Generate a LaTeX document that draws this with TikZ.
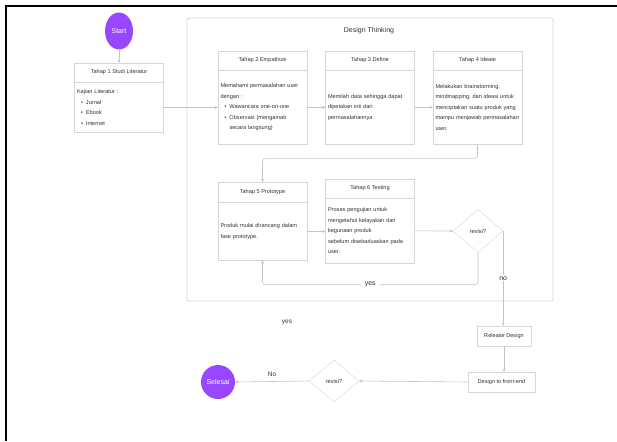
\documentclass[tikz,border=0pt]{standalone}
\usepackage{fontspec}
\setmainfont{Liberation Sans}
\usetikzlibrary{arrows.meta, positioning, shapes.geometric, calc}
\definecolor{flowpurple}{RGB}{151, 71, 255}
\definecolor{flowgray}{RGB}{214, 214, 214}
\definecolor{linegray}{RGB}{196, 196, 196}
\definecolor{textgray}{RGB}{51, 51, 51}
\hyphenpenalty=10000
\newcommand{\itm}[1]{\hspace*{4pt}\makebox[5pt][l]{\textbullet}#1}
\newcommand{\cont}[1]{\hspace*{9pt}#1}

\begin{document}
\begin{tikzpicture}[
  x=1pt, y=-1pt,
  >={Stealth[length=3pt, width=3pt]},
  stagetitle/.style={draw=flowgray, fill=white, text=textgray, minimum width=89pt, minimum height=19pt, inner sep=0pt, font=\fontsize{5.6}{7}\selectfont},
  stagebody/.style={draw=flowgray, fill=white, text=textgray, text width=84pt, inner xsep=2.5pt, inner ysep=0pt, align=left, font=\fontsize{5.6}{10.5}\selectfont},
  smallbox/.style={draw=flowgray, fill=white, text=textgray, minimum height=20pt, inner sep=0pt, font=\fontsize{5.6}{7}\selectfont},
  decision/.style={diamond, draw=flowgray, fill=white, text=textgray, minimum width=50pt, minimum height=43pt, inner sep=0pt, font=\fontsize{5.8}{7}\selectfont},
  terminal/.style={fill=flowpurple, text=white, inner sep=0pt, font=\fontsize{7}{8}\selectfont},
  frame/.style={draw=flowgray, line width=0.8pt, rounded corners=1.5pt},
  conn/.style={->, draw=linegray, line width=0.6pt},
  lbl/.style={text=textgray, font=\fontsize{7}{8}\selectfont}
]
  \useasboundingbox (0,0) rectangle (617,441);

  % Page edges
  \draw[line width=2pt] (5,6) -- (617,6);
  \draw[line width=2pt] (6,5) -- (6,441);

  % Design Thinking frame
  \node[frame, minimum width=366pt, minimum height=283pt] (dt) at (370,159.5) {};
  \node[text=textgray, font=\fontsize{7}{8}\selectfont] (dttitle) at (369,31) {Design Thinking};

  % Start and Tahap 1
  \node[terminal, ellipse, minimum width=28pt, minimum height=37pt] (start) at (119,31) {Start};
  \node[stagetitle] (t1) at (119,72.5) {Tahap 1 Studi Literatur};
  \node[stagebody, minimum height=50pt, below=0pt of t1] (b1) {Kajian Literatur :\\ \itm{Jurnal}\\ \itm{Ebook}\\ \itm{Internet}};

  % Tahap 2 - 4
  \node[stagetitle] (t2) at (262.5,60.5) {Tahap 2 Empathize};
  \node[stagebody, minimum height=74pt, below=0pt of t2] (b2) {Memahami permasalahan user\\ dengan :\\ \itm{Wawancara one-on-one}\\ \itm{Observasi (mengamati}\\ \cont{secara langsung)}};

  \node[stagetitle] (t3) at (370,60.5) {Tahap 3 Define};
  \node[stagebody, minimum height=74pt, below=0pt of t3] (b3) {Memilah data sehingga dapat\\ dipetakan inti dari\\ permasalahannya};

  \node[stagetitle] (t4) at (477.5,60.5) {Tahap 4 Ideate};
  \node[stagebody, minimum height=74pt, below=0pt of t4] (b4) {Melakukan brainstorming,\\ mindmapping, dan ideasi untuk\\ menciptakan suatu produk yang\\ mampu menjawab permasalahan\\ user.};

  % Tahap 5 - 6
  \node[stagetitle, minimum height=20pt] (t5) at (262.5,192) {Tahap 5 Prototype};
  \node[stagebody, minimum height=58pt, below=0pt of t5] (b5) {Produk mulai dirancang dalam\\ fase prototype.};

  \node[stagetitle] (t6) at (370,188.5) {Tahap 6 Testing};
  \node[stagebody, minimum height=65pt, below=0pt of t6] (b6) {Proses pengujian untuk\\ mengetahui kelayakan dan\\ kegunaan produk\\ sebelum disebarluaskan pada\\ user.};

  \node[decision] (rv1) at (478,231) {revisi?};

  % Release and end
  \node[smallbox, minimum width=54pt] (rel) at (504,336) {Release Design};
  \node[smallbox, minimum width=67pt] (dfe) at (501.5,382) {Design to front-end};
  \node[decision, minimum height=42pt] (rv2) at (334,381) {revisi?};
  \node[terminal, circle, minimum size=34pt] (end) at (218,382) {Selesai};
  \node[lbl, font=\fontsize{6.5}{8}\selectfont] (yesfree) at (287,322) {yes};

  % Connectors
  \draw[conn] (start) -- (t1);
  \draw[conn] (b1.east) -- (b2.west);
  \draw[conn] (b2.east) -- (b3.west);
  \draw[conn] (b3.east) -- (b4.west);
  \draw[conn, rounded corners=3pt] (b4.south) -- ++(0,14) -| (t5.north);
  \draw[conn] (b5.east) -- (b5.east -| b6.west);
  \draw[conn] (b6.east) -- (rv1.west);
  \draw[conn, rounded corners=3pt] (rv1.south) -- ++(0,32) -| node[lbl, pos=0.25, fill=white, inner xsep=4pt] {yes} (b5.south);
  \draw[conn] (rv1.east) -- node[lbl, fill=white, inner sep=1pt] {no} (rv1.east |- rel.north);
  \draw[conn] (rel.south) -- (rel.south |- dfe.north);
  \draw[conn] (dfe.west) -- (rv2.east);
  \draw[conn] (rv2.west) -- node[lbl, above=1pt, font=\fontsize{6.5}{8}\selectfont] {No} (end.east);
\end{tikzpicture}
\end{document}
